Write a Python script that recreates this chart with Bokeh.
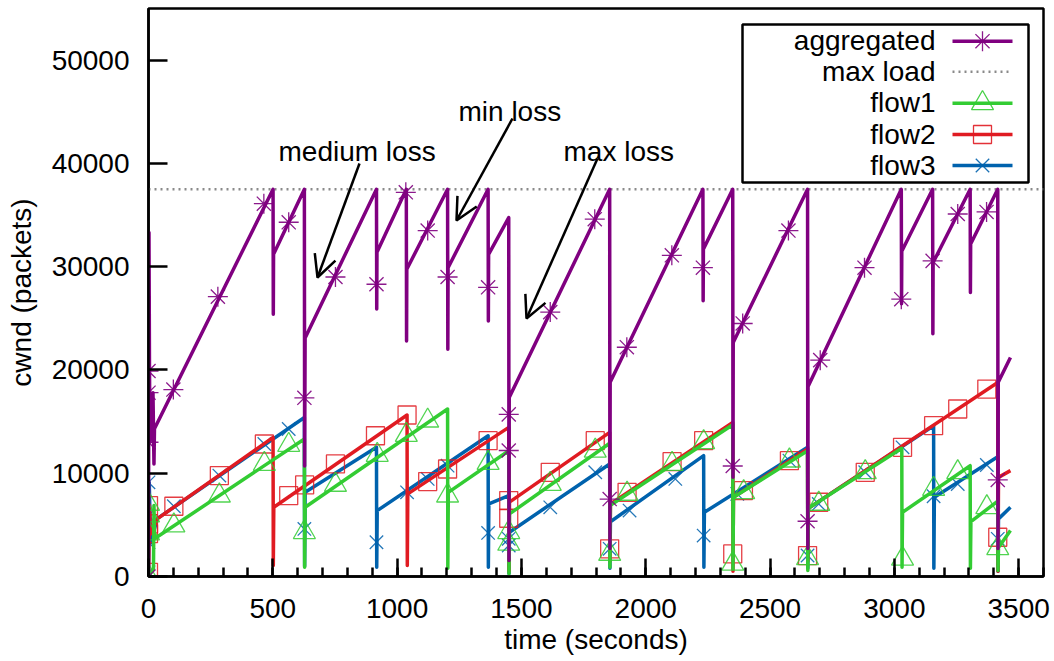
from bokeh.plotting import figure
from bokeh.models import FixedTicker, NumeralTickFormatter, Label, Arrow, OpenHead
from bokeh.embed import file_html
from bokeh.resources import INLINE

# ---------------- data ----------------
agg_t = [0, 2, 4, 6, 18, 22, 24, 501, 502, 503, 627, 628, 630, 917, 918, 919,
         1037, 1038, 1039, 1203, 1204, 1205, 1366, 1367, 1368, 1449, 1450, 1451,
         1855, 1856, 1857, 2230, 2231, 2232, 2350, 2351, 2352, 2651, 2652, 2653,
         3028, 3029, 3030, 3154, 3155, 3156, 3305, 3306, 3307, 3416, 3417, 3418, 3467]
agg_v = [0, 33300, 20000, 13000, 17800, 10900, 14300, 37500, 25400, 31200, 37500, 10700, 23100,
         37500, 25900, 31400, 37500, 22800, 29750, 37500, 22000, 29900, 37500, 24750, 31200,
         34750, 1550, 17340, 37500, 2700, 18800, 37500, 26700, 31700, 37500, 9600, 22660,
         37500, 2700, 18400, 37500, 26400, 31500, 37500, 23500, 30400, 37500, 27500, 32200,
         37500, 2700, 18800, 21200]
agg_mt = [0, 0, 0, 0, 100, 279, 464, 564, 627, 752, 917, 1035, 1123, 1203, 1366, 1449, 1449,
          1616, 1795, 1855, 1924, 2105, 2230, 2350, 2390, 2574, 2651, 2702, 2880, 3028, 3154,
          3255, 3371, 3416]
agg_mv = [0, 13000, 17800, 19900, 18100, 27100, 36100, 34300, 17300, 29000, 28300, 37200, 33500,
          29000, 28000, 15700, 12200, 25600, 34600, 7500, 22200, 31100, 29900, 10700, 24500,
          33500, 5350, 20950, 29900, 26850, 30560, 35100, 35300, 9350]

max_load = 37500

f1_t = [0, 20, 22, 24, 627, 628, 630, 1203, 1204, 1206, 1449, 1450, 1452, 1855, 1856, 1858,
        2350, 2351, 2353, 2651, 2652, 2654, 3030, 3031, 3033, 3305, 3306, 3308, 3416, 3417,
        3419, 3467]
f1_v = [0, 740, 6870, 3650, 13320, 900, 6700, 16220, 800, 8150, 12180, 260, 6060, 12900, 900,
        6900, 14700, 740, 7670, 12180, 580, 6600, 12410, 900, 6220, 10730, 800, 5320, 7300, 580,
        2800, 4450]
f1_mt = [0, 0, 0, 0, 102, 285, 466, 564, 627, 752, 920, 1037, 1123, 1203, 1366, 1449, 1449, 1616,
         1797, 1855, 1925, 2106, 2233, 2350, 2394, 2578, 2651, 2696, 2883, 3033, 3158, 3255,
         3372, 3416]
f1_mv = [0, 4160, 5900, 7030, 4930, 7830, 10900, 12740, 4290, 8870, 11770, 13700, 15090, 7830,
         10990, 4290, 3160, 8960, 12180, 2190, 8000, 10900, 12990, 1230, 8150, 11220, 1770, 7030,
         10090, 1710, 8480, 10090, 6700, 2740]

f2_t = [0, 4, 8, 35, 501, 502, 504, 1040, 1041, 1043, 1449, 1450, 1452, 1855, 1856, 1858, 2350,
        2351, 2353, 2651, 2652, 2654, 3416, 3417, 3419, 3467]
f2_v = [0, 6900, 4100, 5580, 13470, 1060, 6700, 15640, 1060, 8000, 14440, 500, 7200, 13950, 1500,
        7030, 14920, 500, 7670, 12350, 1500, 6600, 18790, 500, 9600, 10250]
f2_mt = [0, 0, 0, 0, 102, 285, 466, 564, 628, 752, 913, 1040, 1123, 1203, 1366, 1449, 1449, 1616,
         1797, 1855, 1925, 2106, 2233, 2350, 2393, 2578, 2651, 2696, 2883, 3033, 3158, 3255,
         3372, 3416]
f2_mv = [400, 4150, 5100, 6870, 6800, 9770, 12830, 7830, 8870, 10900, 13630, 15640, 9190, 10410,
         13150, 7350, 5640, 10090, 13150, 2680, 8150, 11120, 13150, 2190, 8320, 11220, 2030, 7190,
         10090, 12510, 14600, 16220, 18150, 3800]

f3_t = [0, 3, 6, 9, 35, 627, 628, 630, 917, 918, 920, 1366, 1367, 1369, 1449, 1450, 1452, 1855,
        1856, 1858, 2233, 2234, 2236, 2651, 2652, 2654, 3158, 3159, 3161, 3416, 3417, 3419, 3467]
f3_v = [0, 9100, 5900, 3300, 5600, 15400, 1000, 8150, 12510, 900, 6380, 13630, 900, 7030, 7830,
        300, 4290, 10900, 800, 5300, 11700, 900, 6220, 12510, 800, 6600, 14600, 800, 7670, 11600,
        500, 5580, 6700]
f3_mt = [0, 0, 0, 0, 102, 285, 466, 564, 627, 917, 1040, 1123, 1203, 1366, 1449, 1449, 1616, 1797,
         1855, 1935, 2119, 2233, 2368, 2578, 2651, 2696, 2883, 3033, 3158, 3255, 3372, 3416]
f3_mv = [400, 3320, 5900, 9120, 6800, 9770, 12830, 14280, 4610, 3320, 8150, 9450, 10730, 4220,
         3650, 3000, 6700, 10090, 2680, 6380, 9450, 3960, 8000, 11220, 2030, 7030, 10090, 12510,
         7770, 8960, 10800, 3650]

x_ticks = [0, 500, 1000, 1500, 2000, 2500, 3000, 3500]
y_ticks = [0, 10000, 20000, 30000, 40000, 50000]
series_names = ["aggregated", "max load", "flow1", "flow2", "flow3"]

# ---------------- styling ----------------
PURPLE = "#800080"
GREEN = "#33cc33"
RED = "#e01b22"
BLUE = "#0062ad"
GRAY = "#8a8a8a"
FONT = "Liberation Sans"
FS = "28px"

X0, X1 = 0, 3600
Y0, Y1 = 0, 55000
FL, FT, FW, FH = 148, 8, 895, 568   # frame left/top/width/height in px


def px_x(x):
    return X0 + (x - FL) / FW * (X1 - X0)


def px_y(y):
    return Y0 + (FT + FH - y) / FH * (Y1 - Y0)


p = figure(width=1054, height=661, x_range=(X0, X1), y_range=(Y0, Y1),
           output_backend="svg", toolbar_location=None,
           min_border_left=FL, min_border_right=1054 - FL - FW,
           min_border_top=FT, min_border_bottom=661 - FT - FH)
p.xgrid.visible = False
p.ygrid.visible = False
p.outline_line_color = "black"
p.outline_line_width = 2.5
p.background_fill_color = "white"
p.border_fill_color = "white"

p.xaxis.ticker = FixedTicker(ticks=x_ticks, minor_ticks=list(range(0, 3601, 100)))
p.yaxis.ticker = FixedTicker(ticks=y_ticks)
p.yaxis.formatter = NumeralTickFormatter(format="0")
for ax in (p.xaxis[0], p.yaxis[0]):
    ax.axis_line_color = "black"
    ax.axis_line_width = 2.5
    ax.major_tick_line_color = "black"
    ax.major_tick_line_width = 2.5
    ax.major_tick_out = 0
    ax.minor_tick_out = 0
    ax.major_label_text_font = FONT
    ax.major_label_text_font_size = FS
    ax.major_label_text_color = "black"
    ax.axis_label_text_font = FONT
    ax.axis_label_text_font_size = FS
    ax.axis_label_text_font_style = "normal"
    ax.axis_label_text_color = "black"
p.xaxis.major_tick_in = 18
p.xaxis.minor_tick_in = 9
p.xaxis.minor_tick_line_color = "black"
p.xaxis.minor_tick_line_width = 2.5
p.yaxis.major_tick_in = 19
p.yaxis.minor_tick_line_color = None
p.xaxis.major_label_standoff = 22
p.yaxis.major_label_standoff = 19
p.xaxis.axis_label = "time (seconds)"
p.yaxis.axis_label = "cwnd (packets)"
p.xaxis.axis_label_standoff = 3
p.yaxis.axis_label_standoff = 12

LW = 3.5
MLW = 1.3

# max load line
p.line([X0, X1], [max_load, max_load], line_color=GRAY, line_width=2.5, line_dash="2 4")

# flows
p.line(f3_t, f3_v, line_color=BLUE, line_width=LW, line_join="round")
p.scatter(f3_mt, f3_mv, marker="x", size=19, line_color=BLUE, line_width=MLW, line_alpha=0.85)
p.line(f2_t, f2_v, line_color=RED, line_width=LW, line_join="round")
p.scatter(f2_mt, f2_mv, marker="square", size=18, fill_color=None, line_color=RED,
          line_width=MLW, line_alpha=0.85)
p.line(f1_t, f1_v, line_color=GREEN, line_width=LW, line_join="round")
p.scatter(f1_mt, f1_mv, marker="triangle", size=22, fill_color=None, line_color=GREEN,
          line_width=MLW, line_alpha=0.85)
p.line(agg_t, agg_v, line_color=PURPLE, line_width=LW, line_join="round")
p.scatter(agg_mt, agg_mv, marker="asterisk", size=20, line_color=PURPLE, line_width=MLW,
          line_alpha=0.9)

# annotations
ann = [("medium loss", 278, 151, 359, 163, 317, 277),
       ("min loss", 458, 111, 512, 118, 456, 220),
       ("max loss", 563, 151, 597, 158, 526, 318)]
for txt, tx, ty, ax0, ay0, ax1, ay1 in ann:
    p.add_layout(Label(x=px_x(tx), y=px_y(ty), text=txt, text_font=FONT, text_font_size=FS,
                       text_color="black", text_baseline="alphabetic", text_align="left"))
    p.add_layout(Arrow(end=OpenHead(size=22, line_width=2.5, line_color="black"),
                       x_start=px_x(ax0), y_start=px_y(ay0), x_end=px_x(ax1), y_end=px_y(ay1),
                       line_width=2.5, line_color="black"))

# legend (gnuplot style: text right-aligned, sample on the right)
p.quad(left=[px_x(742)], right=[px_x(1028)], top=[px_y(24)], bottom=[px_y(182)],
       fill_color="white", line_color="black", line_width=2.5)
rows = [40.7, 71.3, 102.7, 134.0, 165.0]
styles = [(PURPLE, "asterisk", 20), (GRAY, None, 0), (GREEN, "triangle", 22),
          (RED, "square", 18), (BLUE, "x", 19)]
for name, ry, (col, mk, ms) in zip(series_names, rows, styles):
    p.add_layout(Label(x=px_x(935), y=px_y(ry - 0.5), text=name, text_font=FONT,
                       text_font_size=FS, text_color="black", text_baseline="middle",
                       text_align="right"))
    if mk is None:
        p.line([px_x(952), px_x(1012)], [px_y(ry), px_y(ry)], line_color=col, line_width=2.5,
               line_dash="2 4")
    else:
        p.line([px_x(952), px_x(1012)], [px_y(ry), px_y(ry)], line_color=col, line_width=LW)
        p.scatter([px_x(982)], [px_y(ry)], marker=mk, size=ms, fill_color=None, line_color=col,
                  line_width=MLW, line_alpha=0.9)

open("out.html", "w").write(file_html(p, INLINE))
